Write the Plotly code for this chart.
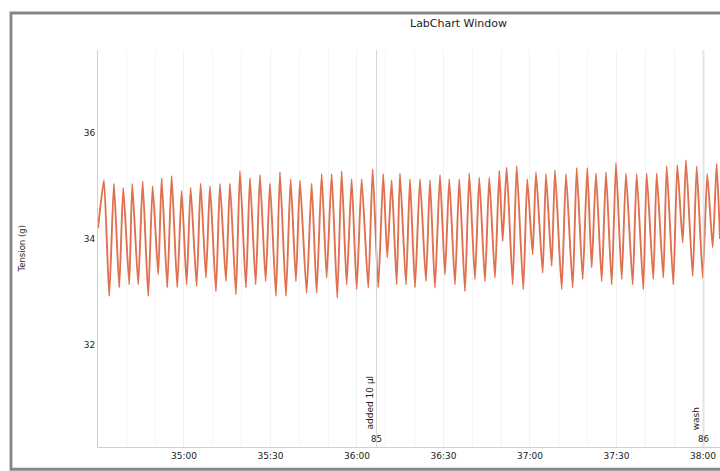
import plotly.graph_objects as go

# ---- data (time in seconds, tension in g) ----
start_time, start_value = 2070.2, 34.2
end_time, end_value = 2285.9, 34.0

peak_times = [2072.25, 2075.72, 2078.95, 2082.07, 2085.68, 2089.14, 2092.27, 2095.73, 2099.20, 2102.32,
              2105.79, 2109.02, 2112.49, 2115.95, 2119.42, 2122.89, 2126.36, 2129.83, 2133.29, 2137.00,
              2140.23, 2144.29, 2147.76, 2151.23, 2154.69, 2158.16, 2161.63, 2165.44, 2169.12, 2172.03,
              2174.91, 2178.38, 2181.85, 2185.32, 2188.79, 2192.01, 2195.48, 2198.95, 2202.41, 2205.88,
              2209.35, 2211.92, 2215.39, 2219.06, 2222.08, 2225.55, 2228.67, 2232.49, 2236.20, 2239.87,
              2242.89, 2246.36, 2249.83, 2253.29, 2257.00, 2260.47, 2263.94, 2267.41, 2271.09, 2274.10,
              2277.81, 2281.48, 2284.74]
peak_values = [35.11, 35.05, 34.97, 35.04, 35.09, 35.00, 35.15, 35.19, 34.91, 34.97,
               35.05, 35.00, 35.04, 35.05, 35.28, 35.15, 35.21, 35.05, 35.26, 35.13,
               35.10, 35.05, 35.23, 35.23, 35.28, 35.13, 35.13, 35.32, 35.23, 35.11,
               35.24, 35.13, 35.13, 35.11, 35.21, 35.13, 35.13, 35.24, 35.16, 35.16,
               35.29, 35.35, 35.38, 35.13, 35.26, 35.23, 35.30, 35.23, 35.34, 35.34,
               35.24, 35.26, 35.43, 35.24, 35.23, 35.24, 35.24, 35.38, 35.40, 35.49,
               35.37, 35.23, 35.42]
trough_times = [2074.09, 2077.56, 2081.03, 2084.15, 2087.62, 2091.09, 2094.21, 2097.68, 2100.94, 2104.40,
                2107.63, 2111.10, 2114.57, 2118.03, 2121.50, 2124.87, 2128.34, 2131.91, 2135.38, 2138.84,
                2142.55, 2146.02, 2149.49, 2153.17, 2156.43, 2159.90, 2163.92, 2167.39, 2170.51, 2173.77,
                2177.00, 2180.12, 2183.93, 2187.05, 2190.52, 2193.99, 2197.46, 2200.92, 2204.39, 2207.86,
                2210.53, 2214.00, 2217.68, 2220.94, 2224.41, 2227.53, 2231.00, 2234.81, 2238.28, 2241.40,
                2244.87, 2248.34, 2251.81, 2255.62, 2259.30, 2262.77, 2266.24, 2269.70, 2272.96, 2276.43,
                2279.90, 2283.37]
trough_values = [32.92, 33.08, 33.14, 33.14, 32.92, 33.33, 33.08, 33.08, 33.14, 33.11,
                 33.27, 33.01, 33.20, 32.95, 33.08, 33.14, 33.20, 32.92, 32.92, 33.20,
                 32.98, 32.98, 33.27, 32.89, 33.14, 33.05, 33.08, 33.08, 33.65, 33.14,
                 33.14, 33.08, 33.20, 33.08, 33.33, 33.14, 33.01, 33.24, 33.20, 33.27,
                 33.96, 33.14, 33.05, 33.71, 33.36, 33.49, 33.05, 33.08, 33.24, 33.46,
                 33.20, 33.14, 33.24, 33.14, 33.05, 33.24, 33.27, 33.14, 33.93, 33.30,
                 33.27, 33.84]

comment_times = [2166.8, 2280.3]
comment_texts = ["added 10 µl", "wash"]
comment_numbers = ["85", "86"]

tick_values = [2100, 2130, 2160, 2190, 2220, 2250, 2280]
tick_labels = ["35:00", "35:30", "36:00", "36:30", "37:00", "37:30", "38:00"]
y_ticks = [32, 34, 36]

FONT = "DejaVu Sans, Verdana, sans-serif"

# ---- assemble the trace: alternate peaks and troughs ----
xs = [start_time]
ys = [start_value]
for i in range(len(peak_times)):
    xs.append(peak_times[i]); ys.append(peak_values[i])
    if i < len(trough_times):
        xs.append(trough_times[i]); ys.append(trough_values[i])
xs.append(end_time); ys.append(end_value)

fig = go.Figure()
fig.add_trace(go.Scatter(x=xs, y=ys, mode="lines",
                         line=dict(color="#e0704f", width=1.9, shape="spline", smoothing=0.5),
                         hoverinfo="skip", showlegend=False))

shapes = []
annotations = []
for t, txt, num in zip(comment_times, comment_texts, comment_numbers):
    shapes.append(dict(type="line", xref="x", yref="paper", x0=t, x1=t, y0=0, y1=1,
                       line=dict(color="#d4d4d4", width=1)))
    annotations.append(dict(x=t, y=0.038, xref="x", yref="paper",
                            text=txt, textangle=-90, showarrow=False, xshift=-7,
                            xanchor="center", yanchor="bottom",
                            font=dict(size=9, color="#222", family=FONT)))
    annotations.append(dict(x=t, y=0.02, xref="x", yref="paper", text=num, showarrow=False,
                            xanchor="center", yanchor="middle",
                            font=dict(size=8.5, color="#222", family=FONT)))

# outer window frame
shapes.append(dict(type="rect", xref="paper", yref="paper", x0=-0.1399, x1=1.02, y0=-0.056, y1=1.0932,
                   line=dict(color="#858585", width=2.8), fillcolor="rgba(0,0,0,0)", layer="above"))

annotations.append(dict(x=0.58, y=1.066, xref="paper", yref="paper", text="LabChart Window",
                        showarrow=False, xanchor="center", yanchor="middle",
                        font=dict(size=11, color="#222", family=FONT)))
annotations.append(dict(x=-0.1222, y=0.5, xref="paper", yref="paper", text="Tension (g)",
                        textangle=-90, showarrow=False, xanchor="center", yanchor="middle",
                        font=dict(size=8.5, color="#222", family=FONT)))

fig.update_layout(
    width=720, height=471,
    margin=dict(l=98, r=0, t=50, b=24),
    paper_bgcolor="white", plot_bgcolor="white",
    shapes=shapes, annotations=annotations,
    font=dict(family=FONT, size=9, color="#222"),
    xaxis=dict(range=[2070.2, 2285.9], tickvals=tick_values, ticktext=tick_labels,
               showline=True, linecolor="#d0d0d0", linewidth=1, ticks="",
               showgrid=True, gridcolor="#f1f1f1", tickmode="array",
               minor=dict(dtick=10, showgrid=True, gridcolor="#f4f4f4"),
               zeroline=False, tickfont=dict(size=9, color="#222", family=FONT)),
    yaxis=dict(range=[30.07, 37.57], tickvals=y_ticks, showline=True, linecolor="#d0d0d0",
               linewidth=1, ticks="", showgrid=False,
               zeroline=False, tickfont=dict(size=9, color="#222", family=FONT)),
)

fig.write_html("out.html")
